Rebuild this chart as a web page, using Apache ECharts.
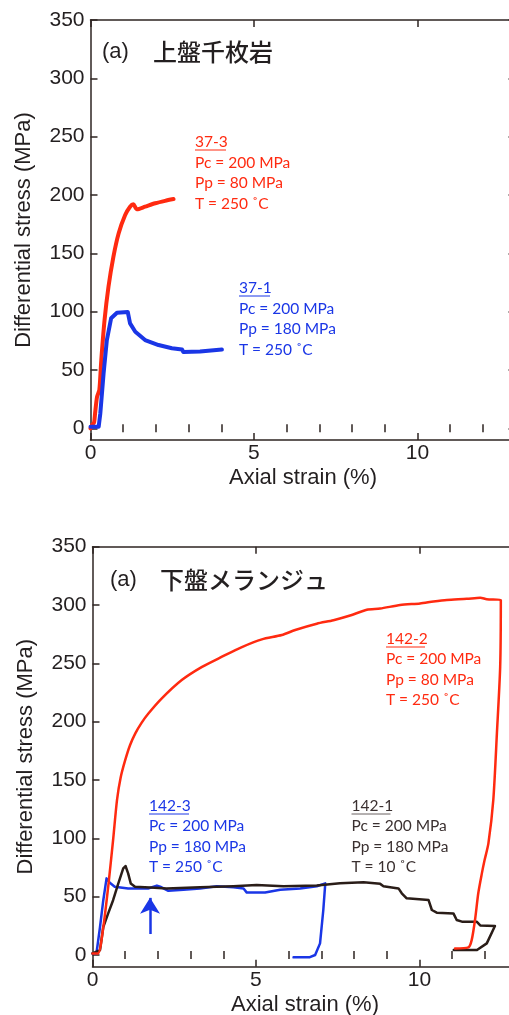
<!DOCTYPE html>
<html>
<head>
<meta charset="utf-8">
<script src="https://cdn.jsdelivr.net/npm/echarts@6/dist/echarts.min.js"></script>
<style>
  html, body { margin: 0; padding: 0; background: #fff; }
  #main { width: 509px; height: 1015px; }
</style>
</head>
<body>
<div id="main"></div>
<script>
// tick labels
const xMajor = [0, 5, 10];
const xMinor = [1, 2, 3, 4, 6, 7, 8, 9, 11, 12];
const yMajor = [0, 50, 100, 150, 200, 250, 300, 350];

// upper panel: 上盤千枚岩  [strain %, stress MPa]
const s37_3 = [[0, 0], [0.05, 3], [0.11, 5], [0.14, 12.8], [0.2, 27], [0.27, 32.8], [0.33, 58.5], [0.43, 92.8],
  [0.55, 121.4], [0.7, 147], [0.86, 167], [1.06, 182.8], [1.21, 190], [1.31, 192], [1.42, 187.7], [1.67, 190],
  [1.98, 192.9], [2.28, 195], [2.54, 196.5]];
const s37_1 = [[0, 1.4], [0.25, 1.4], [0.3, 12.8], [0.4, 47], [0.5, 75.7], [0.63, 94.3], [0.81, 99], [1.14, 99.7],
  [1.21, 90], [1.37, 82.8], [1.67, 75.7], [2.08, 71.4], [2.49, 68.6], [2.8, 67.5], [2.84, 65.5], [3.35, 65.8], [4.02, 67.5]];

// lower panel: 下盤メランジュ
const s142_3 = [[0, 1.4], [0.12, 1.4], [0.23, 24], [0.33, 47], [0.43, 65.7], [0.53, 62], [0.68, 58.6], [1.09, 57],
  [1.7, 57], [1.97, 59.5], [2.07, 58.6], [2.32, 55], [2.78, 56], [3.29, 57], [3.8, 59], [4.31, 58], [4.62, 57],
  [4.72, 53.5], [5.28, 53.6], [5.74, 56], [6.35, 57], [6.86, 59], [7.12, 61.4], [7.06, 38.6], [6.96, 10],
  [6.81, 0], [6.65, -1.8], [6.15, -2]];
const s142_1 = [[0, 1.4], [0.06, 1.4], [0.23, 4.3], [0.33, 24], [0.48, 35.7], [0.63, 47], [0.79, 61.4], [0.94, 74.3],
  [1.01, 76.3], [1.09, 70], [1.17, 61.4], [1.3, 58.6], [1.9, 57.7], [2.27, 57], [3.29, 58], [4.31, 59], [5.02, 60],
  [5.84, 59], [6.86, 59.5], [7.57, 61.5], [8.29, 62.3], [8.8, 61], [8.9, 59], [9.36, 57.1], [9.46, 52.9], [9.61, 48.6],
  [10.28, 47.1], [10.38, 38.6], [10.53, 36.3], [11.04, 35.7], [11.14, 30], [11.3, 28.6], [11.75, 28.6], [11.86, 25.4],
  [12.31, 24.9], [12.06, 10], [11.76, 4.3], [11.05, 4.3]];
const s142_2 = [[0, 1.4], [0.17, 1.4], [0.33, 24], [0.48, 58.5], [0.63, 98.6], [0.75, 133], [0.86, 152], [1.0, 167],
  [1.15, 180], [1.31, 190], [1.5, 199], [1.71, 207], [2.12, 220], [2.73, 235.7], [3.35, 247], [3.96, 255.7],
  [4.57, 264], [5.18, 270.6], [5.79, 274.3], [6.2, 278.6], [6.86, 284], [7.37, 287], [7.88, 291], [8.39, 296],
  [8.8, 297], [9.41, 300], [10.02, 301.4], [10.43, 303], [10.84, 304.3], [11.45, 305.3], [11.86, 306.3], [12.06, 305],
  [12.49, 304.3], [12.47, 247], [12.37, 190], [12.26, 133], [12.11, 95.7], [11.99, 81], [11.91, 70], [11.8, 53],
  [11.7, 30], [11.6, 13], [11.5, 6.6], [11.09, 5.7]];
// arrow in lower panel
const arrowX = 1.76, arrowFrom = 18, arrowTo = 49;

const RED = '#ff2a10', BLUE = '#1a36e6', BLACK = '#2a1d18';
const AX = '#2e2522';
const tickFont = { fontFamily: 'Liberation Sans', fontSize: 21, color: '#231f20' };
const nameFont = { fontFamily: 'Liberation Sans', fontSize: 22, color: '#231f20' };

function xAxes(gi) {
  const line = { show: true, onZero: false, lineStyle: { color: AX, width: 1.5 } };
  const base = { gridIndex: gi, type: 'value', min: 0, max: 13, splitLine: { show: false } };
  return [
    Object.assign({}, base, {
      position: 'bottom', axisLine: line,
      axisTick: { show: true, inside: true, length: 7, customValues: xMajor, lineStyle: { color: AX, width: 1.5 } },
      axisLabel: Object.assign({ customValues: xMajor, margin: 3 }, tickFont),
      name: 'Axial strain (%)', nameLocation: 'middle', nameGap: 27, nameTextStyle: nameFont
    }),
    Object.assign({}, base, {
      position: 'bottom', axisLine: { show: false },
      axisTick: { show: true, inside: true, length: 4, customValues: xMinor, lineStyle: { color: AX, width: 1.5 } },
      axisLabel: { show: false }
    }),
    Object.assign({}, base, {
      position: 'top', axisLine: line,
      axisTick: { show: true, inside: true, length: 7, customValues: xMajor, lineStyle: { color: AX, width: 1.5 } },
      axisLabel: { show: false }
    }),
    Object.assign({}, base, {
      position: 'top', axisLine: { show: false },
      axisTick: { show: true, inside: true, length: 4, customValues: xMinor, lineStyle: { color: AX, width: 1.5 } },
      axisLabel: { show: false }
    })
  ];
}

function yAxes(gi) {
  const base = { gridIndex: gi, type: 'value', min: -10, max: 350, splitLine: { show: false } };
  const line = { show: true, onZero: false, lineStyle: { color: AX, width: 1.5 } };
  const tick = { show: true, inside: true, length: 7, customValues: yMajor, lineStyle: { color: AX, width: 1.5 } };
  return [
    Object.assign({}, base, {
      position: 'left', axisLine: line, axisTick: tick,
      axisLabel: Object.assign({ customValues: yMajor, margin: 6 }, tickFont),
      name: 'Differential stress (MPa)', nameLocation: 'middle', nameGap: 56, nameTextStyle: nameFont
    }),
    Object.assign({}, base, {
      position: 'right', axisLine: line, axisTick: tick, axisLabel: { show: false }
    })
  ];
}

function curve(name, data, color, width, xi, yi, smooth) {
  return {
    name: name, type: 'line', data: data, xAxisIndex: xi, yAxisIndex: yi,
    showSymbol: false, symbol: 'none', smooth: smooth || false, animation: false,
    lineStyle: { color: color, width: width, join: 'round', cap: 'round' }
  };
}

// text blocks
const blocks = [
  { x: 195, ys: [142, 162.5, 183, 203.5], w: 31, color: RED, lines: ['37-3', 'Pc = 200 MPa', 'Pp = 80 MPa', 'T = 250 ˚C'] },
  { x: 239, ys: [288, 308.5, 329, 349.5], w: 31, color: BLUE, lines: ['37-1', 'Pc = 200 MPa', 'Pp = 180 MPa', 'T = 250 ˚C'] },
  { x: 386, ys: [639, 659.3, 679.5, 699.5], w: 39, color: RED, lines: ['142-2', 'Pc = 200 MPa', 'Pp = 80 MPa', 'T = 250 ˚C'] },
  { x: 149, ys: [806, 826.3, 846.7, 866.7], w: 40, color: BLUE, lines: ['142-3', 'Pc = 200 MPa', 'Pp = 180 MPa', 'T = 250 ˚C'] },
  { x: 351.5, ys: [806, 826.3, 846.7, 866.7], w: 39, color: '#3a3030', ul: '#6a6262', lines: ['142-1', 'Pc = 200 MPa', 'Pp = 180 MPa', 'T = 10 ˚C'] }
];

const graphic = [];
blocks.forEach(function (b) {
  b.lines.forEach(function (t, i) {
    graphic.push({ type: 'text', x: b.x, y: b.ys[i], silent: true,
      style: { text: t, fill: b.color, font: '15.5px Lato', verticalAlign: 'middle', align: 'left' } });
  });
  graphic.push({ type: 'line', silent: true,
    shape: { x1: b.x, y1: b.ys[0] + 8, x2: b.x + b.w, y2: b.ys[0] + 8 },
    style: { stroke: b.ul || b.color, lineWidth: 1 } });
});
[[102, 52, 153, '上盤千枚岩'], [110, 580, 160, '下盤メランジュ']].forEach(function (p) {
  graphic.push({ type: 'text', x: p[0], y: p[1], silent: true,
    style: { text: '(a)', fill: '#231f20', font: '22px "Liberation Sans"', verticalAlign: 'middle' } });
  graphic.push({ type: 'text', x: p[2], y: p[1], silent: true,
    style: { text: p[3], fill: '#231f20', font: '500 24px "Noto Sans CJK JP"', verticalAlign: 'middle' } });
});

const chart = echarts.init(document.getElementById('main'), null, { renderer: 'canvas' });
const arrowSeries = curve('arrow', [], BLUE, 2.5, 4, 2);
arrowSeries.markLine = {
  silent: true, animation: false, symbol: ['none', 'arrow'], symbolSize: [15, 16],
  label: { show: false },
  lineStyle: { color: BLUE, width: 2.5, type: 'solid' },
  data: [[{ coord: [arrowX, arrowFrom] }, { coord: [arrowX, arrowTo] }]]
};

chart.setOption({
  backgroundColor: '#fff',
  animation: false,
  grid: [
    { left: 90.5, top: 20, width: 425, height: 420, outerBoundsMode: 'none', containLabel: false },
    { left: 92.5, top: 546.7, width: 425, height: 420, outerBoundsMode: 'none', containLabel: false }
  ],
  xAxis: xAxes(0).concat(xAxes(1)),
  yAxis: yAxes(0).concat(yAxes(1)),
  graphic: graphic,
  series: [
    curve('37-3', s37_3, RED, 4, 0, 0, 0.25),
    curve('37-1', s37_1, BLUE, 4, 0, 0),
    curve('142-3', s142_3, BLUE, 2.5, 4, 2),
    curve('142-1', s142_1, BLACK, 2.5, 4, 2),
    curve('142-2', s142_2, RED, 2.5, 4, 2, 0.25),
    arrowSeries
  ]
});
</script>
</body>
</html>
